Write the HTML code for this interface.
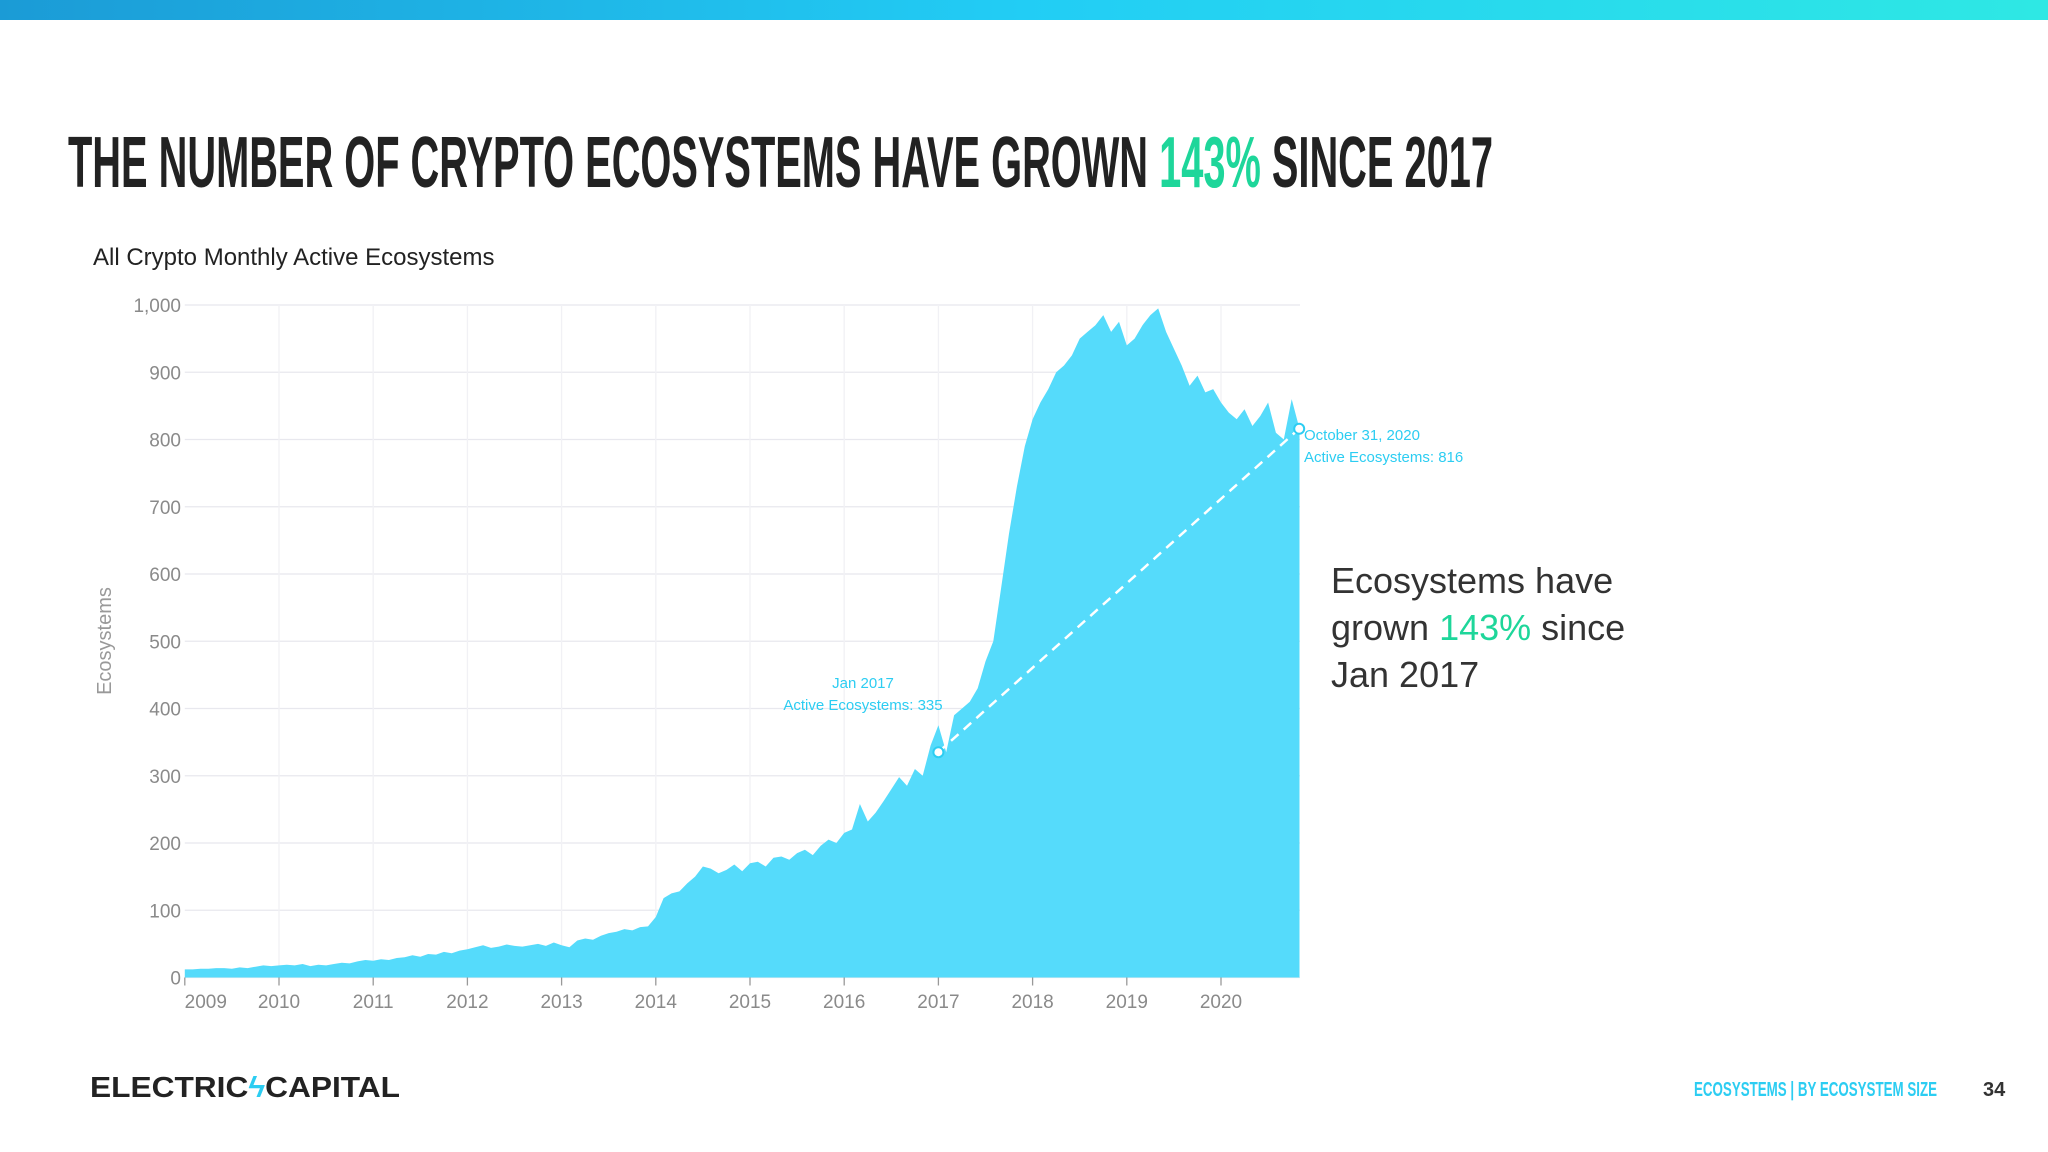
<!DOCTYPE html>
<html><head><meta charset="utf-8"><style>
html,body{margin:0;padding:0;background:#fff;}
svg{display:block;font-family:"Liberation Sans",sans-serif;}
</style></head><body>
<svg id="page" width="2048" height="1152" viewBox="0 0 2048 1152" xmlns="http://www.w3.org/2000/svg">
<defs><linearGradient id="tb" x1="0" x2="1" y1="0" y2="0"><stop offset="0" stop-color="#1b9bd6"/><stop offset="0.5" stop-color="#22cdf5"/><stop offset="1" stop-color="#2ee8e4"/></linearGradient></defs>
<rect x="0" y="0" width="2048" height="20" fill="url(#tb)"/>
<text x="68" y="187" font-family="'Liberation Sans Narrow','Liberation Sans',sans-serif" font-weight="bold" font-size="72" fill="#222" textLength="1425" lengthAdjust="spacingAndGlyphs">THE NUMBER OF CRYPTO ECOSYSTEMS HAVE GROWN <tspan fill="#1ed69a">143%</tspan> SINCE 2017</text>
<text x="93" y="265" font-size="24" fill="#222">All Crypto Monthly Active Ecosystems</text>
<g id="grid"></g>
<g id="chart"></g>
<text transform="translate(111,641) rotate(-90)" text-anchor="middle" font-size="20" fill="#999">Ecosystems</text>
<text x="863" y="688" text-anchor="middle" font-size="15" fill="#2ccdf2">Jan 2017</text>
<text x="863" y="710" text-anchor="middle" font-size="15" fill="#2ccdf2">Active Ecosystems: 335</text>
<text x="1304" y="440" font-size="15" fill="#2ccdf2">October 31, 2020</text>
<text x="1304" y="462" font-size="15" fill="#2ccdf2">Active Ecosystems: 816</text>
<g font-size="36" fill="#333">
<text x="1331" y="593">Ecosystems have</text>
<text x="1331" y="640">grown <tspan fill="#1ed69a">143%</tspan> since</text>
<text x="1331" y="687">Jan 2017</text>
</g>
<text x="90" y="1097" font-size="29" font-weight="bold" fill="#222" textLength="310" lengthAdjust="spacingAndGlyphs">ELECTRIC<tspan fill="#2ccdf2">ϟ</tspan>CAPITAL</text>
<text x="1694" y="1096" font-family="'Liberation Sans Narrow','Liberation Sans',sans-serif" font-weight="bold" font-size="20" fill="#2ccdf2" textLength="243" lengthAdjust="spacingAndGlyphs">ECOSYSTEMS | BY ECOSYSTEM SIZE</text>
<text x="1983" y="1096" font-family="'Liberation Sans Narrow','Liberation Sans',sans-serif" font-weight="bold" font-size="20" fill="#333">34</text>
</svg>
<script>
const yTicks = [0,100,200,300,400,500,600,700,800,900,1000];
const yTickLabels = ["0","100","200","300","400","500","600","700","800","900","1,000"];
const xYears = [2009,2010,2011,2012,2013,2014,2015,2016,2017,2018,2019,2020];
const startYear = 2009;
const monthlyActive = [
12,13,13,14,14,13,15,14,16,18,17,18,
19,18,20,17,19,18,20,22,21,24,26,25,
27,26,29,30,33,31,35,34,38,36,40,42,
45,48,44,46,49,47,46,48,50,47,52,48,
45,55,58,56,62,66,68,72,70,75,76,90,
118,125,128,140,150,165,162,155,160,168,158,170,
172,165,178,180,175,185,190,182,196,205,200,215,
220,258,232,245,262,280,298,285,310,300,345,375,
335,390,400,410,430,470,500,580,660,730,790,830,
855,875,900,910,925,950,960,970,985,960,975,940,
950,970,985,995,960,935,910,880,895,870,875,855,
840,830,845,820,835,855,810,800,860,816];
const markerDates = [2017.0, 2020.83];
const markerValues = [335, 816];

const X0=184.8, PX_PER_YEAR=94.2, Y0=977.5, Y1000=305;
const xs = t => X0 + (t - startYear) * PX_PER_YEAR;
const ys = v => Y0 - v * (Y0 - Y1000) / 1000;
const NS="http://www.w3.org/2000/svg";
const grid=document.getElementById('grid'), chart=document.getElementById('chart');
const xEnd = xs(startYear + monthlyActive.length/12);
function mk(tag, attrs, parent){const e=document.createElementNS(NS,tag);for(const k in attrs)e.setAttribute(k,attrs[k]);parent.appendChild(e);return e;}

yTicks.forEach((v,i)=>{
  const l=mk('line',{x1:X0,x2:1300,y1:ys(v),y2:ys(v),stroke:'#e8e8ee','stroke-width':1.3},grid);
  
  
  const t=mk('text',{x:181,y:ys(v)+7,'text-anchor':'end','font-size':19,fill:'#8a8a8a'},grid);
  t.textContent=yTickLabels[i];
  
  
});
xYears.forEach((y,i)=>{
  const x=xs(y);
  if(i>0){const g=mk('line',{x1:x,x2:x,y1:Y1000,y2:Y0,stroke:'#f1f1f5','stroke-width':1.3},grid);
  
  }
  const tk=mk('line',{x1:x,x2:x,y1:Y0,y2:Y0+8,stroke:'#999','stroke-width':1.3},grid);
  
  
  const t=mk('text',{x:i===0?x+21:x,y:1008,'text-anchor':'middle','font-size':19,fill:'#8a8a8a'},grid);
  t.textContent=String(y);
  
  
});
let d=`M${X0},${Y0} L${X0},${ys(monthlyActive[0])}`;
monthlyActive.forEach((v,i)=>{d+=` L${xs(startYear+(i+1)/12).toFixed(1)},${ys(v).toFixed(1)}`;});
d+=` L${xEnd.toFixed(1)},${Y0} Z`;
const area=mk('path',{d:d,fill:'#55dbfb'},chart);


const tl=mk('line',{x1:xs(markerDates[0]),y1:ys(markerValues[0]),x2:xs(markerDates[1]),y2:ys(markerValues[1]),stroke:'#fff','stroke-width':2.5,'stroke-dasharray':'10 7'},chart);


markerDates.forEach((t,i)=>{
  const c=mk('circle',{cx:xs(t),cy:ys(markerValues[i]),r:5,fill:'#fff',stroke:'#2ccdf2','stroke-width':2},chart);
  
  
});
</script>
</body></html>
